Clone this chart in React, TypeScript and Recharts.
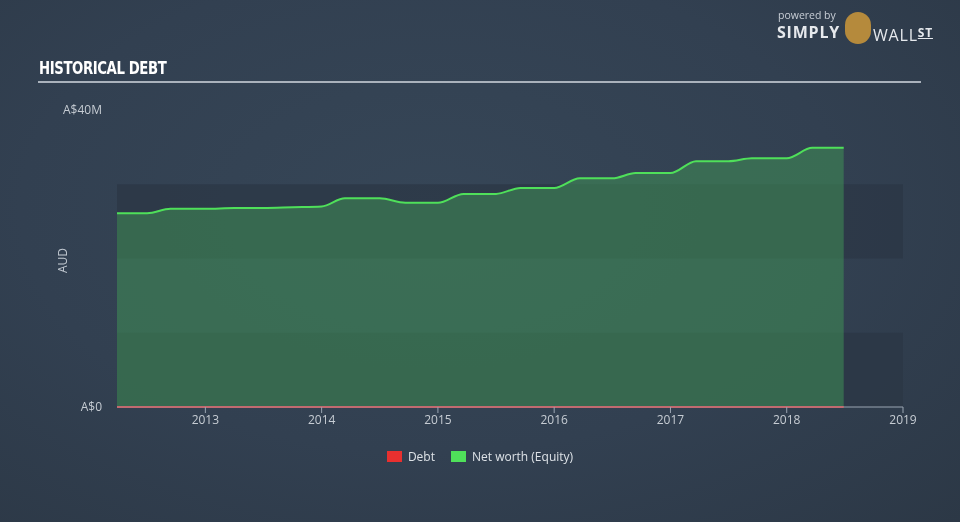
import React from 'react'
import {
  ComposedChart,
  Area,
  Line,
  XAxis,
  YAxis,
  ReferenceArea,
  Legend,
} from 'recharts'

// reporting dates as fractional years
const dates = [
  2012.24, 2012.5, 2012.7, 2013.0, 2013.25, 2013.5, 2013.75, 2014.0, 2014.2,
  2014.5, 2014.72, 2015.0, 2015.22, 2015.5, 2015.71, 2016.0, 2016.22, 2016.5,
  2016.7, 2017.0, 2017.22, 2017.5, 2017.7, 2018.0, 2018.22, 2018.49,
]

// net worth, A$ millions
const netWorth = [
  26.1, 26.1, 26.7, 26.7, 26.8, 26.8, 26.9, 27.0, 28.1, 28.1, 27.5, 27.5, 28.7,
  28.7, 29.5, 29.5, 30.8, 30.8, 31.5, 31.5, 33.1, 33.1, 33.5, 33.5, 34.9, 34.9,
]

// debt, A$ millions
const debt = [
  0, 0, 0, 0, 0, 0, 0, 0, 0, 0, 0, 0, 0, 0, 0, 0, 0, 0, 0, 0, 0, 0, 0, 0, 0, 0,
]

const yearTicks = [2013, 2014, 2015, 2016, 2017, 2018, 2019]
const valueTicks = [0, 40]
const bands = [
  [0, 10],
  [20, 30],
]

const legendItems = [
  { name: 'Debt', color: '#e8302f' },
  { name: 'Net worth (Equity)', color: '#4fe05a' },
]

const data = dates.map((d, i) => ({ date: d, netWorth: netWorth[i], debt: debt[i] }))

const font = '"Open Sans", "DejaVu Sans", sans-serif'

export default function App() {
  return (
    <div
      style={{
        position: 'fixed',
        left: 0,
        top: 0,
        width: 960,
        height: 522,
        background: 'radial-gradient(ellipse at 45% 40%, #364657 0%, #324051 55%, #2c3846 100%)',
        fontFamily: font,
        overflow: 'hidden',
      }}
    >
      <div
        style={{
          position: 'absolute',
          left: 39,
          top: 57,
          color: '#ffffff',
          fontFamily: '"Liberation Sans Narrow", "DejaVu Sans Condensed", sans-serif',
          fontWeight: 'bold',
          fontSize: 18,
          letterSpacing: -0.5,
          transform: 'scaleX(0.82)',
          transformOrigin: 'left',
          whiteSpace: 'nowrap',
        }}
      >
        HISTORICAL DEBT
      </div>
      <div
        style={{
          position: 'absolute',
          left: 38,
          top: 81,
          width: 883,
          height: 2,
          background: '#aab2bc',
        }}
      />
      <div
        style={{
          position: 'absolute',
          left: 778,
          top: 10,
          color: '#c8ced6',
          fontSize: 10.5,
          lineHeight: '11px',
        }}
      >
        powered by
      </div>
      <div
        style={{
          position: 'absolute',
          left: 777,
          top: 25,
          color: '#e6e9ed',
          fontSize: 16,
          lineHeight: '15px',
          fontWeight: 'bold',
          letterSpacing: 0.8,
        }}
      >
        SIMPLY
      </div>
      <div
        style={{
          position: 'absolute',
          left: 845,
          top: 12,
          width: 26,
          height: 32,
          borderRadius: 13,
          background: '#b58a3c',
        }}
      />
      <div
        style={{
          position: 'absolute',
          left: 873,
          top: 25,
          color: '#e6e9ed',
          fontSize: 16,
          lineHeight: '15px',
          letterSpacing: 0.8,
        }}
      >
        WALL<span style={{ fontSize: 12, fontWeight: 'bold', textDecoration: 'underline', verticalAlign: 4 }}>ST</span>
      </div>
      <div
        style={{
          position: 'absolute',
          left: 50,
          top: 252,
          color: '#c2c9d1',
          fontSize: 12,
          transform: 'rotate(-90deg)',
          transformOrigin: 'center',
        }}
      >
        AUD
      </div>
      <ComposedChart
        width={960}
        height={522}
        data={data}
        margin={{ top: 110, right: 57, bottom: 68, left: 57 }}
      >
        {bands.map(([a, b]) => (
          <ReferenceArea key={a} y1={a} y2={b} fill="#2b3645" fillOpacity={0.7} stroke="none" />
        ))}
        <XAxis
          dataKey="date"
          type="number"
          domain={[dates[0], 2019]}
          ticks={yearTicks}
          allowDataOverflow
          height={30}
          stroke="#9aa5b2"
          tickSize={6}
          tick={{ fill: '#c6ccd3', fontSize: 12, fontFamily: font }}
        />
        <YAxis
          type="number"
          domain={[0, 40]}
          ticks={valueTicks}
          width={60}
          axisLine={false}
          tickLine={false}
          tickSize={0}
          tickMargin={15}
          tickFormatter={(v: number) => (v === 0 ? 'A$0' : `A$${v}M`)}
          tick={{ fill: '#c6ccd3', fontSize: 12, fontFamily: font }}
        />
        <Area
          type="monotone"
          dataKey="netWorth"
          name="Net worth (Equity)"
          stroke="#4fe05a"
          strokeWidth={2}
          fill="#3f8f55"
          fillOpacity={0.55}
          isAnimationActive={false}
          dot={false}
        />
        <Line
          type="monotone"
          dataKey="debt"
          name="Debt"
          stroke="#e8302f"
          strokeWidth={2}
          dot={false}
          isAnimationActive={false}
        />
        <Legend
          verticalAlign="bottom"
          wrapperStyle={{ bottom: 57 }}
          content={() => (
            <div style={{ display: 'flex', justifyContent: 'center', gap: 16, fontFamily: font }}>
              {legendItems.map((it) => (
                <div key={it.name} style={{ display: 'flex', alignItems: 'center', gap: 6 }}>
                  <span style={{ width: 15, height: 11, background: it.color, display: 'inline-block' }} />
                  <span style={{ color: '#dde2e7', fontSize: 12 }}>{it.name}</span>
                </div>
              ))}
            </div>
          )}
        />
      </ComposedChart>
    </div>
  )
}
